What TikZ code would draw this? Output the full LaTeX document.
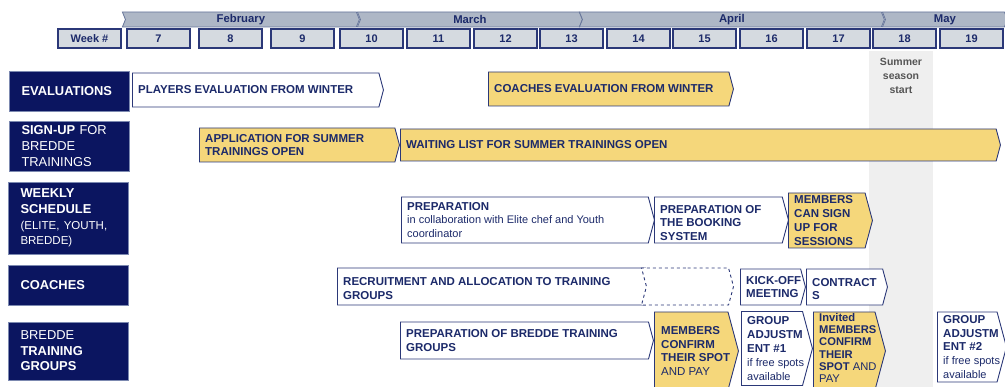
\documentclass[tikz,border=0pt]{standalone}
\usepackage{fontspec}
\setmainfont{Liberation Sans}
\usetikzlibrary{shapes.symbols}

\definecolor{navybox}{HTML}{0B1560}
\definecolor{catline}{HTML}{7C89B0}
\definecolor{navyline}{HTML}{2B3878}
\definecolor{navytext}{HTML}{1C2A6A}
\definecolor{gold}{HTML}{F5D77B}
\definecolor{monthfill}{HTML}{AEB7C6}
\definecolor{monthline}{HTML}{66759A}
\definecolor{weekfill}{HTML}{D5DAE0}
\definecolor{seasongray}{HTML}{EFEFEF}
\definecolor{seasontext}{HTML}{555555}

\begin{document}
\begin{tikzpicture}[x=1pt, y=-1pt,
  cat/.style={draw=catline, fill=navybox, text=white, minimum width=120, text width=95, inner xsep=12, inner ysep=0, align=left, font=\fontsize{12.9}{15.6}\selectfont},
  month/.style={signal, signal from=west, signal to=east, signal pointer angle=136, minimum height=15, inner sep=0, anchor=west, fill=monthfill, draw=monthline, line width=0.8, text=navytext, font=\fontsize{11.3}{13}\selectfont\bfseries},
  week/.style={draw=navyline, fill=weekfill, line width=1.4, minimum width=63, minimum height=19, inner sep=0, text=navytext, font=\fontsize{11}{13}\selectfont\bfseries},
  task/.style={signal, signal to=east, signal pointer angle=150, inner sep=0, anchor=west, draw=navyline, line width=0.9, fill=white},
  tasktext/.style={anchor=west, align=left, inner sep=0, text=navytext, font=\fontsize{11.5}{13.8}\selectfont\bfseries}]
  \useasboundingbox (0,0) rectangle (1005,387);

  % Season column
  \node[fill=seasongray, minimum width=64, minimum height=340, inner sep=0, anchor=north] (season) at (901,51) {};
  \node[align=center, text=seasontext, font=\fontsize{10.5}{14}\selectfont\bfseries] (seasonlbl) at (901,76) {Summer\\season\\start};

  % Months
  \node[month, minimum width=237] (feb) at (125,19.5) {February};
  \node[month, minimum width=225] (mar) at (360,19.5) {March};
  \node[month, minimum width=305] (apr) at (582,19.5) {April};
  \node[month, minimum width=125] (may) at (885,19.5) {May};

  % Weeks
  \node[week] (wk) at (89.5,38.5) {Week \#};
  \foreach \wk/\xc in {7/158.5, 8/230.5, 9/302.5, 10/371.5, 11/438.5, 12/505.5, 13/571.5,
                       14/638.5, 15/704.5, 16/771.5, 17/838.5, 18/904.5, 19/971.5}
    \node[week] (w\wk) at (\xc,38.5) {\wk};

  % Categories
  \node[cat, minimum height=40] (eval) at (69,91) {\textbf{EVALUATIONS}};
  \node[cat, minimum height=50] (signup) at (69,146) {\textbf{SIGN-UP} FOR\\BREDDE\\TRAININGS};
  \node[cat, minimum height=72] (weekly) at (68,218) {\textbf{WEEKLY}\\\textbf{SCHEDULE}\\{\fontsize{11.5}{15.6}\selectfont(ELITE, YOUTH,\\BREDDE)}};
  \node[cat, minimum height=40] (coach) at (68,285.5) {\textbf{COACHES}};
  \node[cat, minimum height=58] (groups) at (68,351) {BREDDE\\\textbf{TRAINING}\\\textbf{GROUPS}};

  % Evaluations
  \node[task, minimum width=251, minimum height=34] (plyeval) at (132,90) {};
  \node[tasktext] at ([xshift=6]plyeval.west) {PLAYERS EVALUATION FROM WINTER};
  \node[task, fill=gold, minimum width=245, minimum height=34] (coacheval) at (488,89) {};
  \node[tasktext] at ([xshift=6]coacheval.west) {COACHES EVALUATION FROM WINTER};

  % Sign-up
  \node[task, fill=gold, minimum width=200, minimum height=34] (apply) at (199,145) {};
  \node[tasktext] at ([xshift=6]apply.west) {APPLICATION FOR SUMMER\\TRAININGS OPEN};
  \node[task, fill=gold, minimum width=600, minimum height=32] (waitlist) at (400,145) {};
  \node[tasktext] at ([xshift=6]waitlist.west) {WAITING LIST FOR SUMMER TRAININGS OPEN};

  % Weekly schedule
  \node[task, minimum width=253, minimum height=46] (prep) at (401,220) {};
  \node[tasktext] at ([xshift=6]prep.west) {PREPARATION\\{\mdseries\fontsize{11}{13.8}\selectfont in collaboration with Elite chef and Youth}\\{\mdseries\fontsize{11}{13.8}\selectfont coordinator}};
  \node[task, minimum width=134, minimum height=46] (booking) at (654,220) {};
  \node[tasktext] at ([xshift=6,yshift=-3]booking.west) {PREPARATION OF\\THE BOOKING\\SYSTEM};
  \node[task, fill=gold, minimum width=84, minimum height=55] (bookopen) at (788,220.5) {};
  \node[tasktext] at ([xshift=6]bookopen.west) {MEMBERS\\CAN SIGN\\UP FOR\\SESSIONS};

  % Coaches
  \node[task, minimum width=313, minimum height=37] (recruit) at (337,286.5) {};
  \node[tasktext] at ([xshift=6,yshift=-2]recruit.west) {RECRUITMENT AND ALLOCATION TO TRAINING\\GROUPS};
  \node[task, signal from=west, dashed, minimum width=92, minimum height=37] (recruitext) at (646,286.5) {};
  \node[task, minimum width=65, minimum height=36] (kickoff) at (740,287) {};
  \node[tasktext] at ([xshift=6]kickoff.west) {KICK-OFF\\MEETING};
  \node[task, minimum width=81, minimum height=36] (contract) at (806,287) {};
  \node[tasktext] at ([xshift=6,yshift=-2]contract.west) {CONTRACT\\S};

  % Bredde training groups
  \node[task, minimum width=253, minimum height=37] (grpprep) at (400,340.5) {};
  \node[tasktext] at ([xshift=6]grpprep.west) {PREPARATION OF BREDDE TRAINING\\GROUPS};
  \node[task, fill=gold, minimum width=84, minimum height=78] (confirm) at (654,351) {};
  \node[tasktext] at ([xshift=7]confirm.west) {MEMBERS\\CONFIRM\\THEIR SPOT\\{\mdseries AND PAY}};
  \node[task, minimum width=71, minimum height=74] (adjone) at (741,348.5) {};
  \node[tasktext] at ([xshift=6]adjone.west) {GROUP\\ADJUSTM\\ENT \#1\\{\mdseries\fontsize{11}{13.8}\selectfont if free spots}\\{\mdseries\fontsize{11}{13.8}\selectfont available}};
  \node[task, fill=gold, minimum width=72, minimum height=78] (invited) at (813,351) {};
  \node[tasktext, font=\fontsize{11.2}{12.2}\selectfont\bfseries] at ([xshift=6,yshift=3]invited.west) {Invited\\MEMBERS\\CONFIRM\\THEIR\\SPOT {\mdseries AND}\\{\mdseries PAY}};
  \node[task, minimum width=69, minimum height=70] (adjtwo) at (937,347) {};
  \node[tasktext] at ([xshift=6]adjtwo.west) {GROUP\\ADJUSTM\\ENT \#2\\{\mdseries\fontsize{11}{13.8}\selectfont if free spots}\\{\mdseries\fontsize{11}{13.8}\selectfont available}};
\end{tikzpicture}
\end{document}
